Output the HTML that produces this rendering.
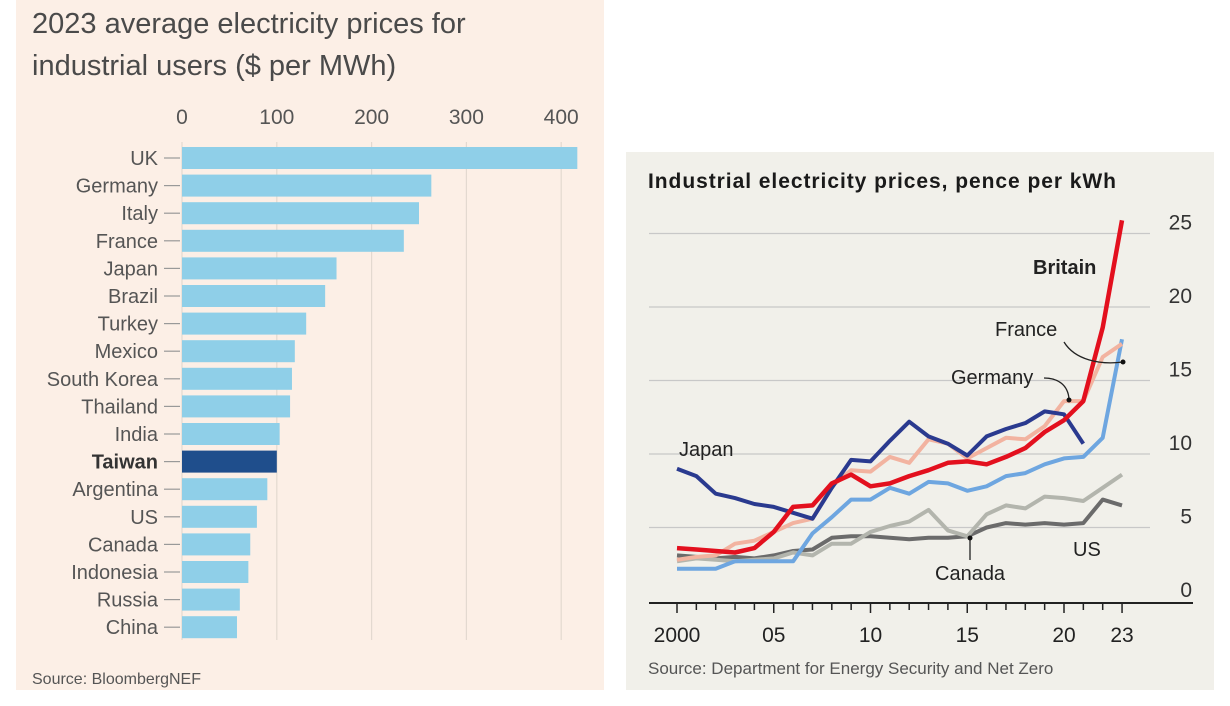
<!DOCTYPE html>
<html><head><meta charset="utf-8">
<style>
html,body{margin:0;padding:0;background:#fff;}
body{width:1230px;height:706px;position:relative;overflow:hidden;font-family:"Liberation Sans",sans-serif;}
svg{position:absolute;left:0;top:0;}
</style></head>
<body>
<svg id="chart" width="1230" height="706" viewBox="0 0 1230 706">
  <rect x="16" y="0" width="588" height="690" fill="#fcefe6"/>
  <rect x="626" y="152" width="588" height="538" fill="#f1f0ea"/>
  <text x="32" y="33" font-size="29" fill="#4a4a4a">2023 average electricity prices for</text>
  <text x="32" y="75" font-size="29" fill="#4a4a4a">industrial users ($ per MWh)</text>
  <text x="32" y="684" font-size="16" fill="#555">Source: BloombergNEF</text>
  <g id="left"></g>
  <text x="648" y="188" font-size="21" font-weight="bold" fill="#1a1a1a" textLength="468">Industrial electricity prices, pence per kWh</text>
  <text x="648" y="674" font-size="17" fill="#555">Source: Department for Energy Security and Net Zero</text>
  <g id="right"></g>
</svg>
<script>
const countries = ["UK","Germany","Italy","France","Japan","Brazil","Turkey","Mexico","South Korea","Thailand","India","Taiwan","Argentina","US","Canada","Indonesia","Russia","China"];
const prices = [417,263,250,234,163,151,131,119,116,114,103,100,90,79,72,70,61,58];
const barTicks = [0,100,200,300,400];

const years = [2000,2001,2002,2003,2004,2005,2006,2007,2008,2009,2010,2011,2012,2013,2014,2015,2016,2017,2018,2019,2020,2021,2022,2023];
const britain = [3.6,3.5,3.4,3.3,3.6,4.7,6.4,6.5,8.0,8.6,7.8,8.0,8.5,8.9,9.4,9.5,9.3,9.8,10.4,11.5,12.3,13.6,18.6,25.9];
const japan = [9.0,8.5,7.3,7.0,6.6,6.4,6.0,5.6,7.7,9.6,9.5,10.9,12.2,11.2,10.7,9.9,11.2,11.7,12.1,12.9,12.7,10.7];
const germany = [2.8,3.0,3.1,3.9,4.1,4.7,5.3,5.6,7.8,8.9,8.8,9.8,9.4,11.0,10.7,9.7,10.4,11.1,11.0,11.9,13.6,13.6,16.6,17.5];
const france = [2.2,2.2,2.2,2.7,2.7,2.7,2.7,4.6,5.7,6.9,6.9,7.7,7.3,8.1,8.0,7.5,7.8,8.5,8.7,9.3,9.7,9.8,11.1,17.8];
const canada = [2.7,2.9,2.8,2.7,2.8,2.9,3.3,3.1,3.9,3.9,4.7,5.1,5.4,6.2,4.8,4.4,5.9,6.5,6.3,7.1,7.0,6.8,7.7,8.6];
const us = [3.1,3.0,2.9,3.0,2.9,3.1,3.4,3.5,4.3,4.4,4.4,4.3,4.2,4.3,4.3,4.4,5.0,5.3,5.2,5.3,5.2,5.3,6.9,6.5];
const yTicks = [0,5,10,15,20,25];
const xTickLabels = ["2000","05","10","15","20","23"];
const xTickYears = [2000,2005,2010,2015,2020,2023];

const NS="http://www.w3.org/2000/svg";
function mk(tag,attrs,parent,txt){const e=document.createElementNS(NS,tag);for(const k in attrs)e.setAttribute(k,attrs[k]);if(txt!==undefined)e.textContent=txt;parent.appendChild(e);return e;}

const L=document.getElementById('left');
const bx=v=>182+v*0.948;
const by=i=>158+i*27.6;
barTicks.forEach(t=>{
  const g=mk('line',{x1:bx(t),x2:bx(t),y1:142,y2:640,stroke:'#e3d9d0','stroke-width':1.2},L);
  
  
  const tl=mk('text',{x:bx(t),y:124,'font-size':21,fill:'#555','text-anchor':'middle'},L,String(t));
  
  
});
countries.forEach((c,i)=>{
  const r=mk('rect',{x:bx(0),y:by(i)-11,width:bx(prices[i])-bx(0),height:22,fill:c==='Taiwan'?'#1f4e8c':'#8fcfe8'},L);
  
  
  const tk=mk('line',{x1:164,x2:180,y1:by(i),y2:by(i),stroke:'#999','stroke-width':1.2},L);
  
  
  const t=mk('text',{x:158,y:by(i)+7,'font-size':20,fill:c==='Taiwan'?'#333':'#555','text-anchor':'end','font-weight':c==='Taiwan'?'bold':'normal'},L,c);
  
  
});

const R=document.getElementById('right');
const lx=y=>677+(y-2000)*19.35;
const ly=v=>601-v*14.7;
yTicks.forEach(t=>{
  if(t>0){const g=mk('line',{x1:649,x2:1150,y1:ly(t),y2:ly(t),stroke:'#c8c8c8','stroke-width':1.3},R);
  
  }
  const tl=mk('text',{x:1192,y:ly(t)-4,'font-size':21,fill:'#333','text-anchor':'end'},R,String(t));
  
  
});
const ax=mk('line',{x1:649,x2:1193,y1:603,y2:603,stroke:'#222','stroke-width':2},R);


years.forEach(y=>{
  const major=xTickYears.includes(y);
  const t=mk('line',{x1:lx(y),x2:lx(y),y1:603,y2:major?613:610,stroke:'#222','stroke-width':1.5},R);
  
  
});
xTickYears.forEach((y,i)=>{
  const t=mk('text',{x:lx(y),y:642,'font-size':21,fill:'#222','text-anchor':'middle'},R,xTickLabels[i]);
  
  
});
function line(vals,color,w,name){
  const d=vals.map((v,i)=>(i?'L':'M')+lx(years[i]).toFixed(1)+','+ly(v).toFixed(1)).join(' ');
  const p=mk('path',{d:d,fill:'none',stroke:color,'stroke-width':w,'stroke-linejoin':'round'},R);
  
  
}
line(us,'#6b6b6b',4,'line-us');
line(canada,'#b3b5ad',4,'line-canada');
line(france,'#6ea6e0',4,'line-france');
line(germany,'#f2b3a0',4,'line-germany');
line(japan,'#2a3a8f',4,'line-japan');
line(britain,'#e3101e',4.5,'line-britain');

function lab(txt,x,y,name,bold){const t=mk('text',{x:x,y:y,'font-size':20,fill:'#222','font-weight':bold?'bold':'normal'},R,txt);
  
  }
lab('Britain',1033,274,'label-britain',true);
lab('France',995,336,'label-france');
lab('Germany',951,384,'label-germany');
lab('Japan',679,456,'label-japan');
lab('US',1073,556,'label-us');
lab('Canada',935,580,'label-canada');
const a1=mk('path',{d:'M1064,342 C1075,360 1100,365 1123,362',fill:'none',stroke:'#222','stroke-width':1.3},R);


const a2=mk('path',{d:'M1044,378 C1058,378 1068,385 1069,399',fill:'none',stroke:'#222','stroke-width':1.3},R);


const a3=mk('line',{x1:970,x2:970,y1:538,y2:560,stroke:'#222','stroke-width':1.3},R);


[[1123,362],[1069,400],[970,538]].forEach(p=>{const c=mk('circle',{cx:p[0],cy:p[1],r:2.5,fill:'#111'},R);
  
  });
</script>
</body></html>
